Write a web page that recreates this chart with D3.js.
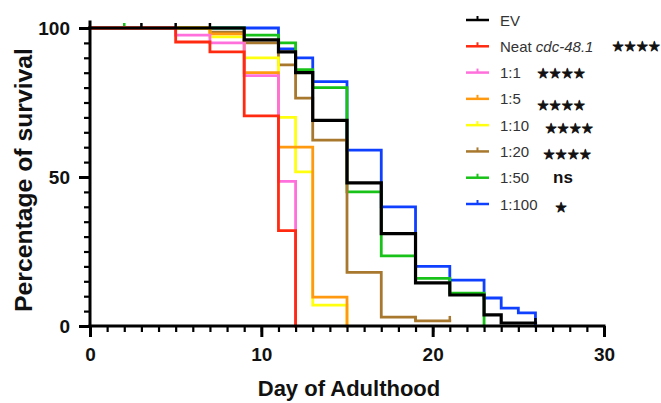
<!DOCTYPE html>
<html>
<head>
<meta charset="utf-8">
<script src="https://cdn.jsdelivr.net/npm/d3@7"></script>
<style>
	html, body { margin: 0; padding: 0; background: #fff; }
	svg { display: block; font-family: "Liberation Sans", Arial, sans-serif; }
</style>
</head>
<body>
<div id="chart"></div>
<script>
// Kaplan-Meier steps: day of the step and % alive after it
const evDays = [0, 9, 11, 12, 13, 15, 17, 19, 21, 23, 24, 26];
const evPct = [100, 96, 92, 85, 69, 48, 31, 14.5, 10.4, 3.7, 1, 1];
const neatDays = [0, 5, 7, 9, 11, 12];
const neatPct = [100, 95.3, 92, 70.5, 32, 0];
const r1Days = [0, 5, 7, 9, 11, 12];
const r1Pct = [100, 97.6, 95, 84, 48.5, 0];
const r5Days = [0, 7, 9, 11, 13, 15];
const r5Pct = [100, 98, 85, 60, 9.7, 0];
const r10Days = [0, 7, 9, 11, 12, 13, 15];
const r10Pct = [100, 97, 90, 70, 51.7, 7, 0];
const r20Days = [0, 7, 9, 11, 12, 13, 15, 17, 19, 21];
const r20Pct = [100, 98.6, 95, 87.6, 76.5, 62.4, 18, 3, 1.7, 1.7];
const r50Days = [0, 9, 11, 12, 13, 15, 17, 19, 21, 23];
const r50Pct = [100, 97.6, 95, 86, 80, 45, 23.5, 16, 11, 0];
const r100Days = [0, 11, 12, 13, 15, 17, 19, 21, 23, 24, 25, 26];
const r100Pct = [100, 93, 90, 82, 59, 40, 20, 15.4, 9.4, 6, 4.4, 0];

// censored observations (day, %) shown as small ticks
const evCensor = [[3, 100], [5, 100], [7, 100], [26, 1]];
const r20Censor = [[19, 1.7], [21, 1.7]];
const r50Censor = [[2, 100]];

const seriesNames = ['EV', 'Neat', '1:1', '1:5', '1:10', '1:20', '1:50', '1:100'];
const seriesStats = ['', '★★★★', '★★★★', '★★★★', '★★★★', '★★★★', 'ns', '★'];

const xTicks = [0, 10, 20, 30];
const yTicks = [0, 50, 100];

const colors = {
	'EV': '#000000',
	'Neat': '#ff2a10',
	'1:1': '#ff70dc',
	'1:5': '#ff9a10',
	'1:10': '#ffff10',
	'1:20': '#a8782e',
	'1:50': '#18c218',
	'1:100': '#1040ff'
};

const width = 661;
const height = 403;

const series = [
	{name: 'EV', days: evDays, pct: evPct, censor: evCensor},
	{name: 'Neat', days: neatDays, pct: neatPct, censor: []},
	{name: '1:1', days: r1Days, pct: r1Pct, censor: []},
	{name: '1:5', days: r5Days, pct: r5Pct, censor: []},
	{name: '1:10', days: r10Days, pct: r10Pct, censor: []},
	{name: '1:20', days: r20Days, pct: r20Pct, censor: r20Censor},
	{name: '1:50', days: r50Days, pct: r50Pct, censor: r50Censor},
	{name: '1:100', days: r100Days, pct: r100Pct, censor: []}
];

// bottom-to-top draw order, black on top
const drawOrder = ['1:100', '1:50', '1:20', '1:10', '1:5', '1:1', 'Neat', 'EV'];

const svg = d3.select('#chart').append('svg')
	.attr('width', width)
	.attr('height', height);

const x = d3.scaleLinear().domain([0, 30]).range([90, 604]);
const y = d3.scaleLinear().domain([0, 100]).range([326, 28]);

const line = d3.line()
	.x(d => x(d[0]))
	.y(d => y(d[1]))
	.curve(d3.curveStepAfter);

const plot = svg.append('g');

drawOrder.forEach(name => {
	const s = series.find(d => d.name === name);
	const pts = s.days.map((d, i) => [d, s.pct[i]]);
	plot.append('path')
		.attr('d', line(pts))
		.attr('fill', 'none')
		.attr('stroke', colors[name])
		.attr('stroke-width', name === 'EV' ? 3.2 : 2.8)
		.attr('stroke-linejoin', 'miter')
		.attr('stroke-linecap', 'square');
	plot.selectAll(null)
		.data(s.censor)
		.join('line')
		.attr('x1', d => x(d[0]))
		.attr('x2', d => x(d[0]))
		.attr('y1', d => y(d[1]) - 5)
		.attr('y2', d => y(d[1]))
		.attr('stroke', colors[name])
		.attr('stroke-width', 2.5);
});

// axes
const xMinor = d3.range(0, 31);
const yMinor = d3.range(0, 101, 5);

const styleLabels = sel => sel
	.attr('font-size', 19)
	.attr('font-weight', 'bold')
	.attr('fill', '#111')
	.attr('font-family', '"Liberation Sans", Arial, sans-serif');

const xAxis = svg.append('g')
	.attr('transform', `translate(0,${y(0)})`)
	.call(d3.axisBottom(x).tickValues(xMinor).tickSize(6).tickFormat(''));
xAxis.select('.domain').remove();
xAxis.selectAll('.tick line').attr('stroke-width', 2.2).attr('stroke', '#000');

const xMajor = svg.append('g')
	.attr('transform', `translate(0,${y(0)})`)
	.call(d3.axisBottom(x).tickValues(xTicks).tickSize(11).tickPadding(11));
xMajor.select('.domain').remove();
xMajor.selectAll('.tick line').attr('stroke-width', 3).attr('stroke', '#000');
xMajor.selectAll('text').call(styleLabels);

const yAxis = svg.append('g')
	.attr('transform', `translate(${x(0)},0)`)
	.call(d3.axisLeft(y).tickValues(yMinor).tickSize(6).tickFormat(''));
yAxis.select('.domain').remove();
yAxis.selectAll('.tick line').attr('stroke-width', 2.2).attr('stroke', '#000');

const yMajor = svg.append('g')
	.attr('transform', `translate(${x(0)},0)`)
	.call(d3.axisLeft(y).tickValues(yTicks).tickSize(11).tickPadding(9));
yMajor.select('.domain').remove();
yMajor.selectAll('.tick line').attr('stroke-width', 3).attr('stroke', '#000');
yMajor.selectAll('text').call(styleLabels);

svg.append('line')
	.attr('x1', x(0)).attr('x2', x(30))
	.attr('y1', y(0)).attr('y2', y(0))
	.attr('stroke', '#000').attr('stroke-width', 3).attr('stroke-linecap', 'square');
svg.append('line')
	.attr('x1', x(0)).attr('x2', x(0))
	.attr('y1', y(0)).attr('y2', y(102))
	.attr('stroke', '#000').attr('stroke-width', 3).attr('stroke-linecap', 'square');

// axis titles
svg.append('text')
	.attr('x', 349)
	.attr('y', 396)
	.attr('text-anchor', 'middle')
	.attr('font-size', 22)
	.attr('font-weight', 'bold')
	.attr('fill', '#111')
	.text('Day of Adulthood');

// the source is stretched vertically, so the rotated title runs longer
svg.append('text')
	.attr('transform', 'translate(32,180) rotate(-90)')
	.attr('text-anchor', 'middle')
	.attr('font-size', 23)
	.attr('font-weight', 'bold')
	.attr('fill', '#111')
	.attr('textLength', 264)
	.attr('lengthAdjust', 'spacingAndGlyphs')
	.text('Percentage of survival');

// legend
const legendY = d3.scalePoint().domain(seriesNames).range([20, 204]);
const statX = [0, 612, 537, 537, 545, 543, 553, 555];
const statCy = [0, 46, 73, 105, 128, 154, 178, 207];

const legend = svg.append('g');
seriesNames.forEach((name, i) => {
	const ly = legendY(name);
	legend.append('line')
		.attr('x1', 466).attr('x2', 489)
		.attr('y1', ly).attr('y2', ly)
		.attr('stroke', colors[name]).attr('stroke-width', 2.5);
	legend.append('line')
		.attr('x1', 477.5).attr('x2', 477.5)
		.attr('y1', ly - 4).attr('y2', ly)
		.attr('stroke', colors[name]).attr('stroke-width', 2);
	const t = legend.append('text')
		.attr('x', 500)
		.attr('y', ly + 5.5)
		.attr('font-size', 15)
		.attr('fill', '#333');
	if (name === 'Neat') {
		t.append('tspan').text('Neat ');
		t.append('tspan').attr('font-style', 'italic').text('cdc-48.1');
	} else {
		t.text(name);
	}
	if (seriesStats[i]) {
		const isStar = seriesStats[i].includes('★');
		legend.append('text')
			.attr('x', statX[i])
			.attr('y', statCy[i] + 5)
			.attr('font-size', isStar ? 13.5 : 17)
			.attr('font-family', isStar ? '"DejaVu Sans", sans-serif' : null)
			.attr('font-weight', 'bold')
			.attr('fill', '#111')
			.attr('stroke', isStar ? '#111' : null)
			.attr('stroke-width', isStar ? 0.8 : null)
			.attr('stroke-linejoin', 'round')
			.text(seriesStats[i]);
	}
});
</script>
</body>
</html>
